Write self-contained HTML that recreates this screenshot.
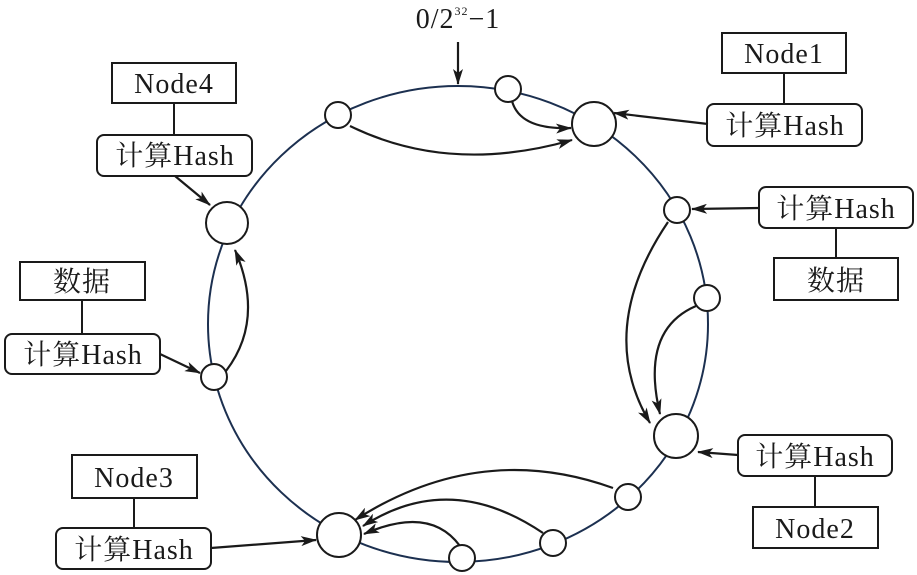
<!DOCTYPE html>
<html><head><meta charset="utf-8"><style>
html,body{margin:0;padding:0;background:#fff;}
svg{display:block;}
text{font-family:"Liberation Serif","Noto Serif CJK SC",serif;font-size:28px;letter-spacing:1px;fill:#1a1a1a;}
</style></head><body>
<svg width="917" height="575" viewBox="0 0 917 575" xmlns="http://www.w3.org/2000/svg">
<defs>
<marker id="a" viewBox="0 0 16 10" refX="15" refY="5" markerWidth="16" markerHeight="10" markerUnits="userSpaceOnUse" orient="auto">
<path d="M0,0 L16,5 L0,10 L4,5 Z" fill="#1a1a1a"/>
</marker>
</defs>
<ellipse cx="458" cy="324" rx="250" ry="238" fill="none" stroke="#1c3050" stroke-width="2"/>
<g fill="none" stroke="#1a1a1a" stroke-width="2.2" marker-end="url(#a)">
<line x1="458" y1="42" x2="458" y2="84"/>
<path d="M350,126 Q450,175 572,140"/>
<path d="M512,101 Q520,130 571,128"/>
<line x1="708" y1="124" x2="614" y2="113"/>
<line x1="759" y1="208" x2="692" y2="209"/>
<path d="M668,222 Q595,330 650,423"/>
<path d="M696,306 Q640,330 660,414"/>
<line x1="738" y1="455" x2="698" y2="452"/>
<line x1="175" y1="176" x2="210" y2="205"/>
<path d="M226,371 Q265,320 235,250"/>
<line x1="160" y1="354" x2="200" y2="373"/>
<line x1="211" y1="548" x2="316" y2="540"/>
<path d="M613,488 Q480,440 355,520"/>
<path d="M543,533 Q450,470 363,526"/>
<path d="M460,546 Q430,505 364,534"/>
</g>
<g fill="#fff" stroke="#1a1a1a" stroke-width="2">
<circle cx="338" cy="115" r="13"/>
<circle cx="508" cy="89" r="13"/>
<circle cx="594" cy="124" r="22"/>
<circle cx="677" cy="210" r="13"/>
<circle cx="707" cy="298" r="13"/>
<circle cx="676" cy="436" r="22"/>
<circle cx="628" cy="497" r="13"/>
<circle cx="553" cy="543" r="13"/>
<circle cx="462" cy="558" r="13"/>
<circle cx="339" cy="535" r="22"/>
<circle cx="214" cy="377" r="13"/>
<circle cx="227" cy="223" r="21"/>
</g>
<g fill="none" stroke="#1a1a1a" stroke-width="2">
<line x1="784" y1="73" x2="784" y2="104"/>
<line x1="174" y1="103" x2="174" y2="135"/>
<line x1="82" y1="300" x2="82" y2="334"/>
<line x1="836" y1="228" x2="836" y2="258"/>
<line x1="815" y1="476" x2="815" y2="507"/>
<line x1="134" y1="498" x2="134" y2="528"/>
<rect x="722" y="33" width="124" height="40"/>
<rect x="707" y="104" width="155" height="42" rx="7"/>
<rect x="112" y="63" width="124" height="40"/>
<rect x="97" y="135" width="155" height="41" rx="7"/>
<rect x="20" y="262" width="125" height="38"/>
<rect x="5" y="334" width="155" height="40" rx="7"/>
<rect x="759" y="187" width="154" height="41" rx="7"/>
<rect x="774" y="258" width="124" height="42"/>
<rect x="738" y="435" width="154" height="41" rx="7"/>
<rect x="753" y="507" width="125" height="41"/>
<rect x="72" y="455" width="125" height="43"/>
<rect x="56" y="528" width="155" height="41" rx="7"/>
</g>
<g text-anchor="middle">
<text x="458" y="28" font-size="30">0/2<tspan font-size="12" dy="-13">32</tspan><tspan dy="13">−1</tspan></text>
<text x="784" y="63">Node1</text>
<text x="785" y="135">计算Hash</text>
<text x="174" y="93">Node4</text>
<text x="175" y="165">计算Hash</text>
<text x="82" y="291">数据</text>
<text x="83" y="364">计算Hash</text>
<text x="836" y="218">计算Hash</text>
<text x="836" y="290">数据</text>
<text x="815" y="466">计算Hash</text>
<text x="815" y="538">Node2</text>
<text x="134" y="487">Node3</text>
<text x="134" y="559">计算Hash</text>
</g>
</svg>
</body></html>
